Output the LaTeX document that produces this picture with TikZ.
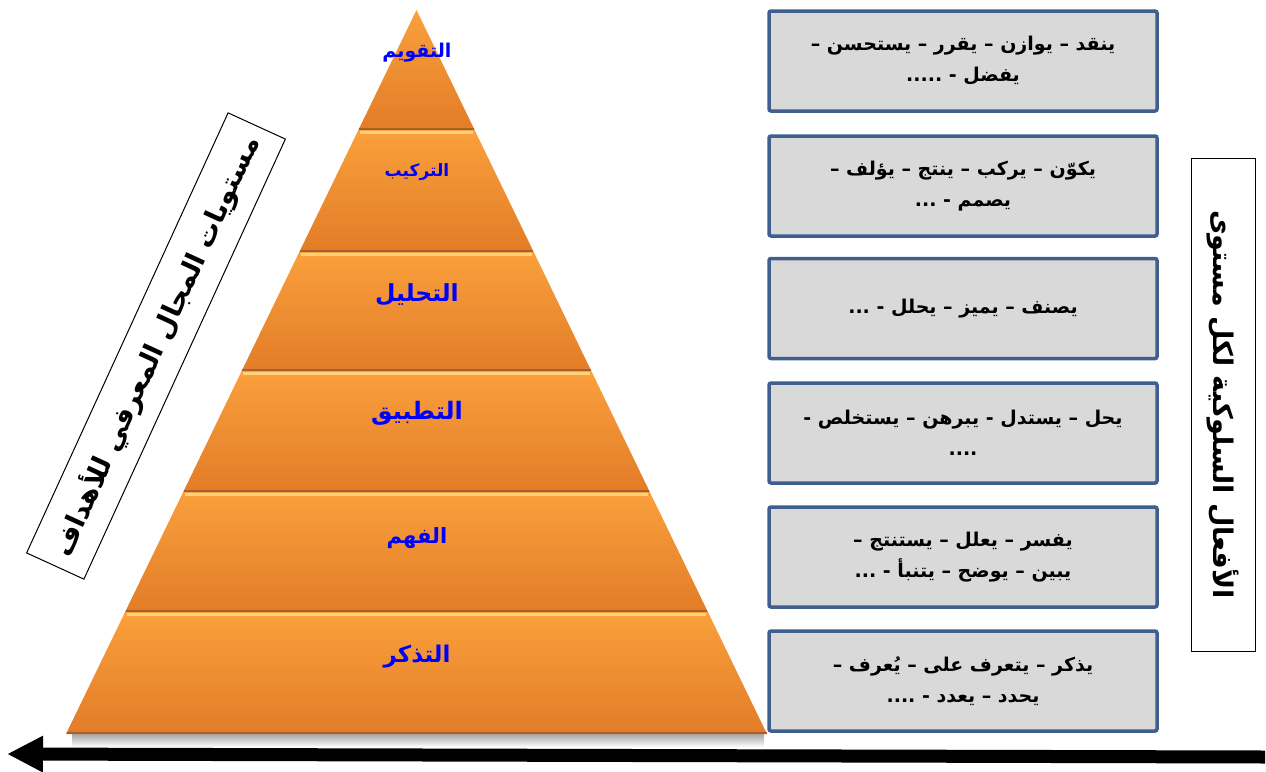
\documentclass[tikz,border=0pt]{standalone}
\usepackage{fontspec}
\usetikzlibrary{arrows.meta}
\newfontfamily\arabicfont[Script=Arabic]{DejaVu Sans}
\TeXXeTstate=1
\definecolor{boxfill}{HTML}{D9D9D9}
\definecolor{boxline}{HTML}{3F5F8F}
\definecolor{orTop}{HTML}{FAA03C}
\definecolor{orBot}{HTML}{E27C28}
\definecolor{orDark}{HTML}{A8602A}
\definecolor{orLight}{HTML}{FFD27A}
\definecolor{lvlblue}{HTML}{0000FF}
\newcommand\arline[1]{\beginR #1\endR}
\tikzset{
  actbox/.style={draw=boxline, line width=3.5pt, fill=boxfill, rounded corners=2pt,
    minimum width=388pt, minimum height=100pt, align=center, inner sep=0pt,
    font=\arabicfont\bfseries\fontsize{19}{31}\selectfont},
  lvl/.style={text=lvlblue, inner sep=0pt, font=\arabicfont\bfseries\fontsize{#1}{#1}\selectfont},
  sidebox/.style={draw=black, line width=1pt, fill=white, inner sep=0pt,
    font=\arabicfont\bfseries\fontsize{27}{30}\selectfont},
  band/.style={top color=orTop, bottom color=orBot},
  hilite/.style={draw=orLight, line width=3pt},
  lowline/.style={draw=orDark, line width=2pt},
}
\begin{document}
\begin{tikzpicture}[x=1pt,y=-1pt]
\useasboundingbox (0,0) rectangle (1266,771);
% shadow under the pyramid
\shade[top color=black!35, bottom color=white] (72,734) rectangle (764,747);
% top band (triangle)
\shade[band] (416.5,10) -- (474.6,130) -- (358.4,130) -- cycle;
\draw[lowline] (359.4,129) -- (473.6,129);
% other bands
\foreach \yt/\lt/\rt/\yb/\lb/\rb in {130/358.4/474.6/252/299.3/533.7,
  252/299.3/533.7/371/241.7/591.3, 371/241.7/591.3/492/183.2/649.8,
  492/183.2/649.8/612/125.1/707.9, 612/125.1/707.9/734/66/767}{
  \shade[band] (\lt,\yt) -- (\rt,\yt) -- (\rb,\yb) -- (\lb,\yb) -- cycle;
  \draw[hilite] (\lt+1.5,\yt+2) -- (\rt-1.5,\yt+2);
  \draw[lowline] (\lb+0.5,\yb-1) -- (\rb-0.5,\yb-1);
}
% level labels
\node[lvl=19] (evaluation) at (417,53) {\arline{التقويم}};
\node[lvl=17] (synthesis) at (417,172) {\arline{التركيب}};
\node[lvl=23.5] (analysis) at (417,295) {\arline{التحليل}};
\node[lvl=24] (application) at (417,413) {\arline{التطبيق}};
\node[lvl=21] (comprehension) at (417,538) {\arline{الفهم}};
\node[lvl=23] (knowledge) at (417,657) {\arline{التذكر}};
% action boxes
\node[actbox] (b1) at (963,61) {\arline{ينقد – يوازن – يقرر – يستحسن –}\\\arline{يفضل - .....}};
\node[actbox] (b2) at (963,186) {\arline{يكوّن – يركب – ينتج – يؤلف –}\\\arline{يصمم - ...}};
\node[actbox] (b3) at (963,308.5) {\arline{يصنف – يميز – يحلل - ...}};
\node[actbox] (b4) at (963,433) {\arline{يحل – يستدل  - يبرهن – يستخلص -}\\\arline{....}};
\node[actbox] (b5) at (963,557) {\arline{يفسر – يعلل – يستنتج –}\\\arline{يبين – يوضح – يتنبأ - ...}};
\node[actbox] (b6) at (963,681) {\arline{يذكر – يتعرف على – يُعرف –}\\\arline{يحدد – يعدد - ....}};
% side boxes
\node[sidebox, rotate=65.4, minimum width=484pt, minimum height=63pt] (goalsBox) at (156,346) {\arline{مستويات المجال المعرفي للأهداف}};
\node[sidebox, rotate=-90, minimum width=493pt, minimum height=64pt] (actsBox) at (1223,404.5) {\arline{الأفعال السلوكية لكل مستوى}};
% arrow
\coordinate (arrowStart) at (1265,757);
\coordinate (arrowEnd) at (7,754);
\draw[line width=13pt, -{Triangle[length=36pt,width=34pt]}] (arrowStart) -- (arrowEnd);
\end{tikzpicture}
\end{document}
